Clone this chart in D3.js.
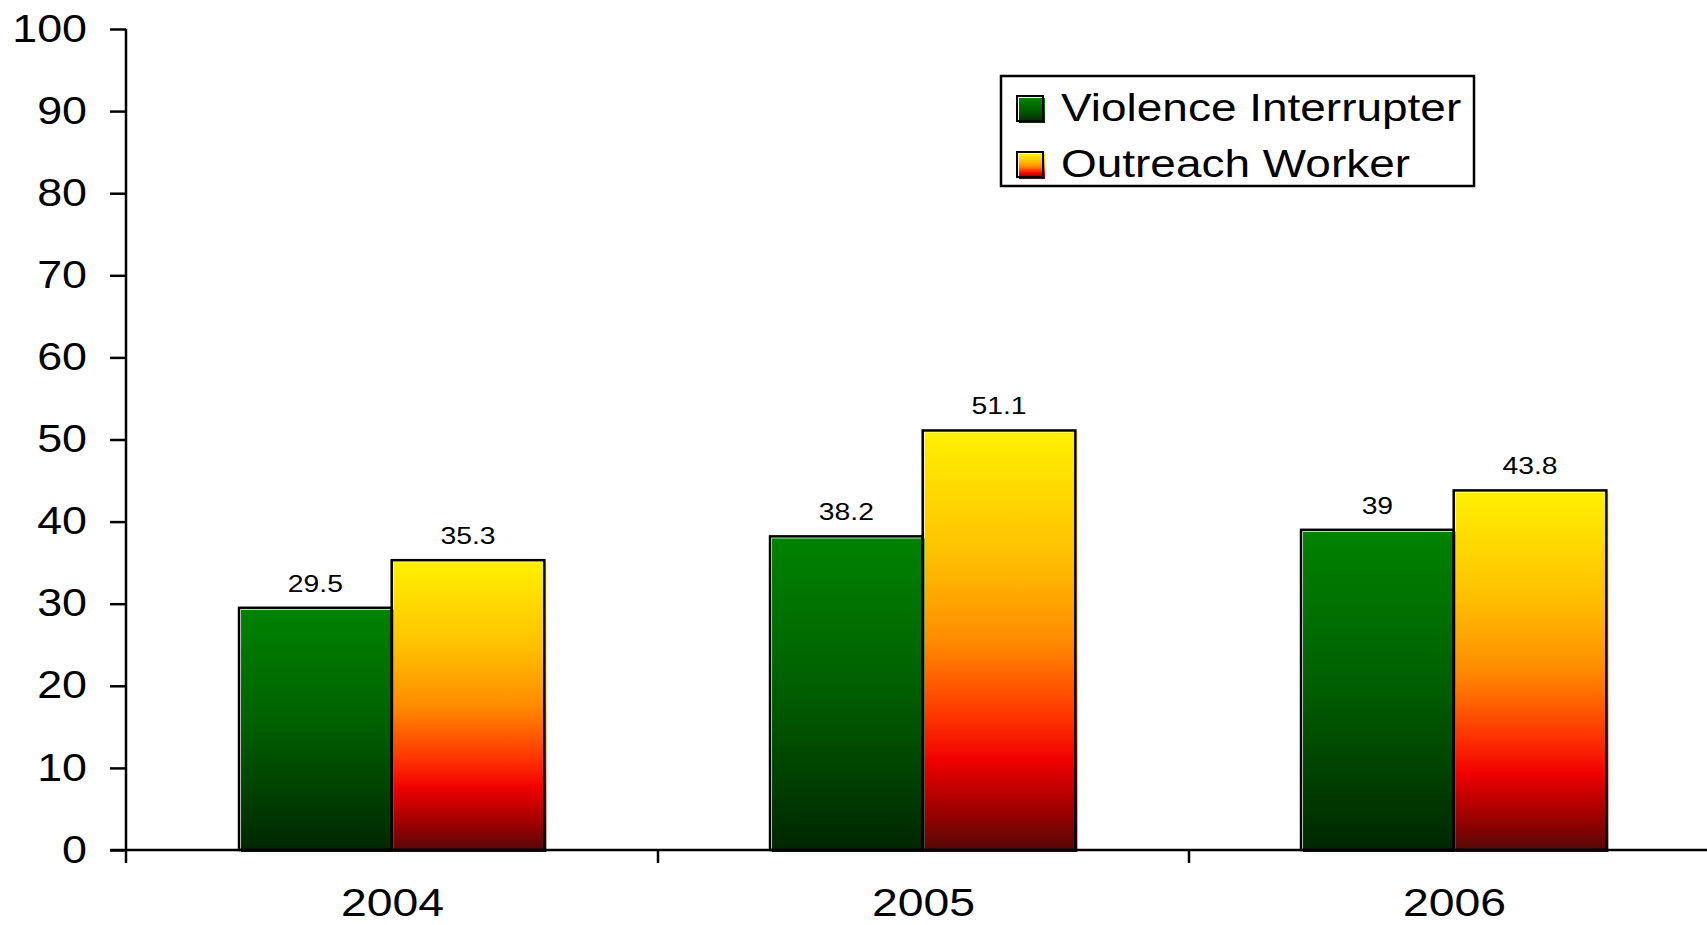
<!DOCTYPE html>
<html>
<head>
<meta charset="utf-8">
<script src="https://cdn.jsdelivr.net/npm/d3@7"></script>
<style>
  body { margin: 0; background: #fff; }
  svg { display: block; }
  text { font-family: "Liberation Sans", Arial, sans-serif; fill: #000; }
</style>
</head>
<body>
<svg id="chart" width="1707" height="925"></svg>
<script>
// chart data
const years = ['2004', '2005', '2006'];
const series = ['Violence Interrupter', 'Outreach Worker'];
const violenceInterrupter = [29.5, 38.2, 39];
const outreachWorker = [35.3, 51.1, 43.8];
const yTicks = [0, 10, 20, 30, 40, 50, 60, 70, 80, 90, 100];

const stretch = 1.18; // text in the picture is drawn wide

const svg = d3.select('#chart');
const defs = svg.append('defs');

const green = defs.append('linearGradient')
  .attr('id', 'gGreen').attr('x1', 0).attr('y1', 0).attr('x2', 0).attr('y2', 1);
[[0, '#008200'], [0.45, '#006200'], [1, '#002600']].forEach(s => {
  green.append('stop').attr('offset', s[0]).attr('stop-color', s[1]);
});

const warm = defs.append('linearGradient')
  .attr('id', 'gWarm').attr('x1', 0).attr('y1', 0).attr('x2', 0).attr('y2', 1);
[[0, '#fff000'], [0.3, '#ffbf00'], [0.5, '#ff8a00'], [0.68, '#ff3300'],
 [0.78, '#f00000'], [0.9, '#a00000'], [1, '#520808']].forEach(s => {
  warm.append('stop').attr('offset', s[0]).attr('stop-color', s[1]);
});
const fills = ['url(#gGreen)', 'url(#gWarm)'];

const y = d3.scaleLinear().domain([0, 100]).range([850, 29]);
const x = d3.scaleBand().domain(years).range([127, 1720]);
const bw = x.bandwidth();
const x1 = d3.scaleBand().domain(series).range([bw * 0.211, bw * 0.786]);

const rows = years.map((yr, i) => ({
  year: yr,
  vals: [violenceInterrupter[i], outreachWorker[i]]
}));

// bars
const groups = svg.selectAll('g.year')
  .data(rows)
  .enter().append('g')
  .attr('class', 'year')
  .attr('transform', d => 'translate(' + x(d.year) + ',0)');

const bars = groups.selectAll('g.bar')
  .data(d => d.vals.map((v, j) => ({ s: series[j], v: v, j: j })))
  .enter().append('g').attr('class', 'bar');

bars.append('rect')
  .attr('x', d => x1(d.s) + 2)
  .attr('y', d => y(d.v) + 2)
  .attr('width', x1.bandwidth())
  .attr('height', d => y(0) - y(d.v))
  .attr('fill', d => fills[d.j]);

bars.append('rect')
  .attr('x', d => x1(d.s))
  .attr('y', d => y(d.v))
  .attr('width', x1.bandwidth())
  .attr('height', d => y(0) - y(d.v))
  .attr('fill', 'none')
  .attr('stroke', '#000')
  .attr('stroke-width', 2.5);

bars.append('text')
  .attr('transform', d => 'translate(' + (x1(d.s) + x1.bandwidth() / 2) + ',' + (y(d.v) - 16) + ') scale(' + stretch + ',1)')
  .attr('text-anchor', 'middle')
  .style('font-size', '24px')
  .text(d => d.v);

// y axis
const yAxis = svg.append('g')
  .attr('transform', 'translate(126,0)')
  .call(d3.axisLeft(y).tickValues(yTicks).tickSize(16).tickSizeOuter(0).tickPadding(23));
yAxis.select('.domain').attr('stroke', '#000').attr('stroke-width', 2.5)
  .attr('d', 'M0,' + y(100) + 'V863');
yAxis.selectAll('.tick line').attr('stroke', '#000').attr('stroke-width', 2.5);
yAxis.selectAll('.tick text')
  .attr('x', null)
  .attr('transform', 'translate(-39,0) scale(' + stretch + ',1)')
  .style('font-size', '38px')
  .style('font-family', '"Liberation Sans", Arial, sans-serif')
  .attr('fill', '#000');

// x axis
const xAxis = svg.append('g')
  .attr('transform', 'translate(0,' + y(0) + ')');
xAxis.append('line')
  .attr('x1', 110).attr('x2', 1707)
  .attr('stroke', '#000').attr('stroke-width', 2.5);
xAxis.selectAll('line.tick')
  .data(years.slice(1))
  .enter().append('line')
  .attr('class', 'tick')
  .attr('x1', d => x(d)).attr('x2', d => x(d))
  .attr('y1', 0).attr('y2', 13)
  .attr('stroke', '#000').attr('stroke-width', 2.5);
xAxis.selectAll('text')
  .data(years)
  .enter().append('text')
  .attr('transform', d => 'translate(' + (x(d) + bw / 2) + ',66) scale(1.22,1)')
  .attr('text-anchor', 'middle')
  .style('font-size', '38px')
  .text(d => d);

// legend
const legend = svg.append('g').attr('transform', 'translate(1001,76)');
legend.append('rect')
  .attr('width', 473).attr('height', 110)
  .attr('fill', '#fff').attr('stroke', '#000').attr('stroke-width', 2.5);
const item = legend.selectAll('g.item')
  .data(series)
  .enter().append('g')
  .attr('class', 'item')
  .attr('transform', (d, i) => 'translate(16,' + (20 + i * 56) + ')');
item.append('rect')
  .attr('x', 2).attr('y', 2).attr('width', 26).attr('height', 25)
  .attr('fill', (d, i) => fills[i]);
item.append('rect')
  .attr('width', 26).attr('height', 25)
  .attr('fill', 'none').attr('stroke', '#000').attr('stroke-width', 2);
item.append('text')
  .attr('transform', 'translate(44,25) scale(1.21,1)')
  .style('font-size', '38px')
  .text(d => d);
</script>
</body>
</html>
